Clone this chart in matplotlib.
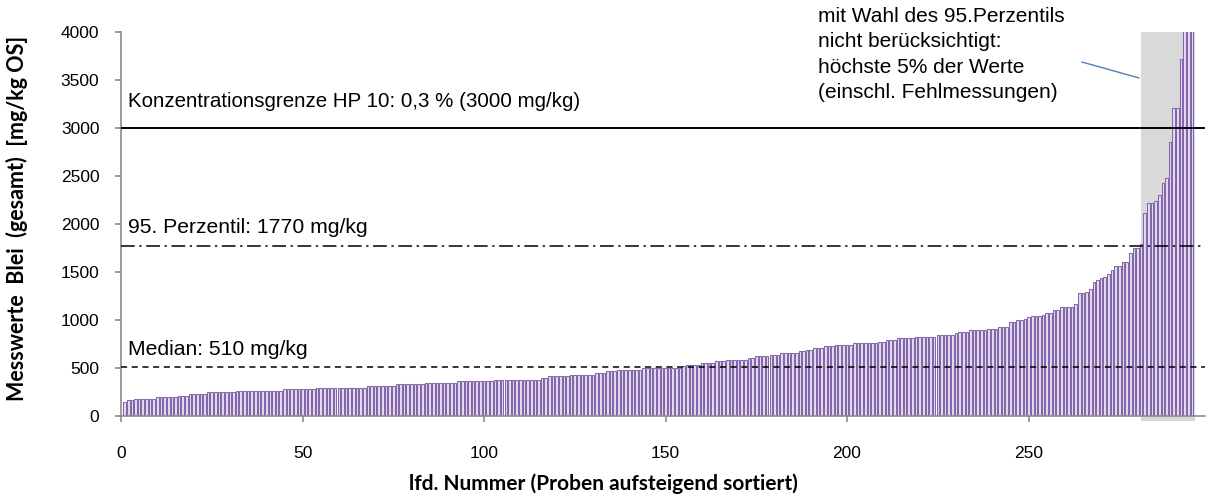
"""Messwerte Blei (gesamt), Proben aufsteigend sortiert, mit Median, 95. Perzentil und HP 10 Grenze."""

import matplotlib

matplotlib.use("Agg")
import matplotlib.pyplot as plt  # noqa: E402
import numpy as np  # noqa: E402

# sorted readings (mg/kg OS) in blocks of sample numbers
werte_001_049 = [148, 162, 162, 176, 176, 176, 176, 176, 176,
                 193, 193, 193, 193, 193, 193, 210, 210, 210,
                 227, 227, 227, 227, 227, 245, 245, 245, 245, 245, 245, 245, 245,
                 258, 258, 258, 258, 258, 258, 258, 258, 258, 258, 258, 258, 258,
                 279, 279, 279, 279, 279]
werte_050_104 = [276, 276, 276, 276, 293, 293, 293, 293, 293,
                 296, 296, 296, 296, 296, 296, 296, 296, 296,
                 310, 310, 310, 310, 310, 310, 310, 310,
                 331, 331, 331, 331, 331, 331, 331, 331,
                 348, 348, 348, 348, 348, 348, 348, 348, 348,
                 362, 362, 362, 362, 362, 362, 362, 362, 362, 362, 379, 379]
werte_105_156 = [379, 379, 379, 379, 379, 379, 379, 379, 379, 379, 379,
                 396, 396, 414, 414, 414, 414, 414, 414,
                 431, 431, 431, 431, 431, 431, 431, 448, 448, 448, 465, 465, 465,
                 482, 482, 482, 482, 482, 482, 482,
                 500, 500, 500, 500, 500, 500, 500, 500, 500, 500, 500, 517, 534]
werte_157_209 = [534, 534, 534, 551, 551, 551, 551, 569, 569, 569,
                 586, 586, 586, 586, 586, 586, 603, 603, 620, 620, 620, 620,
                 638, 638, 638, 655, 655, 655, 655, 655, 672, 672, 689, 689,
                 706, 706, 706, 724, 724, 724, 741, 741, 741, 741, 741,
                 758, 758, 758, 758, 758, 758, 758, 775]
werte_210_253 = [775, 792, 792, 792, 810, 810, 810, 810, 810,
                 827, 827, 827, 827, 827, 827, 841, 841, 841, 841, 841, 861,
                 879, 879, 879, 892, 892, 892, 892, 892, 910, 910, 910, 927, 927, 927,
                 979, 979, 996, 996, 1010, 1027, 1044, 1044, 1044]
# the last three run off the top of the axis in the original (> 4000)
werte_254_295 = [1051, 1068, 1068, 1103, 1103, 1138, 1138, 1138, 1138, 1165,
                 1276, 1276, 1287, 1321, 1391, 1415, 1432, 1450, 1477, 1519,
                 1564, 1564, 1606, 1606, 1699, 1744, 1751, 1790,
                 2115, 2220, 2220, 2237, 2300, 2428, 2473, 2854, 3211, 3211, 3711,
                 4300, 4700, 5200]

MEDIAN = 510
P95 = 1770
GRENZE = 3000
TOP5_VON, TOP5_BIS = 280.9, 295.9   # shaded "highest 5 %" band, sample numbers

LILA, LILA_HELL = "#8466AC", "#E4DCEE"
GRAU, ACHSE = "#D9D9D9", "#8C8C8C"

werte = np.array(werte_001_049 + werte_050_104 + werte_105_156
                 + werte_157_209 + werte_210_253 + werte_254_295)
nr = np.arange(1, len(werte) + 1)

plt.rcParams["font.family"] = ["Liberation Sans", "DejaVu Sans"]
BOLD = ["Lato", "DejaVu Sans"]

fig = plt.figure(figsize=(12.08, 4.97), dpi=100)
ax = fig.add_axes([121 / 1208, 81 / 497, (1205 - 121) / 1208, (465.3 - 81) / 497])

ax.axvspan(TOP5_VON, TOP5_BIS, ymin=-0.012, ymax=1.0, color=GRAU, lw=0, zorder=0,
           clip_on=False)
ax.bar(nr, werte, width=0.72, color=LILA_HELL, edgecolor=LILA, linewidth=0.75, zorder=2)

ax.axhline(GRENZE, color="black", lw=1.4, zorder=3)
ax.axhline(P95, color="black", lw=1.1, ls=(0, (9, 3, 1.5, 3)), zorder=3)
ax.axhline(MEDIAN, color="black", lw=1.1, ls=(0, (4, 3)), zorder=3)

ax.text(2, 3270, "Konzentrationsgrenze HP 10: 0,3 % (3000 mg/kg)", fontsize=14.8,
        va="center", ha="left")
ax.text(2, 1960, "95. Perzentil: 1770 mg/kg", fontsize=15.2, va="center", ha="left")
ax.text(2, 690, "Median: 510 mg/kg", fontsize=15.2, va="center", ha="left")

fig.text(818 / 1208, 1 - 7 / 497,
         "mit Wahl des 95.Perzentils\nnicht berücksichtigt:\nhöchste 5% der Werte\n"
         "(einschl. Fehlmessungen)", fontsize=15, va="top", ha="left", linespacing=1.42)
fig.add_artist(plt.Line2D([1082 / 1208, 1139 / 1208], [1 - 62 / 497, 1 - 78 / 497],
                          color="#4F81BD", lw=1.0))

ax.set_xlim(0, 298.6)
ax.set_ylim(0, 4000)
ax.set_xticks(np.arange(0, 251, 50))
ax.set_yticks(np.arange(0, 4001, 500))

for s in ("top", "right"):
    ax.spines[s].set_visible(False)
for s in ("left", "bottom"):
    ax.spines[s].set_color(ACHSE)
    ax.spines[s].set_linewidth(1.2)
ax.tick_params(axis="both", colors=ACHSE, labelcolor="black", labelsize=12.5,
               length=4.5, width=1.2, direction="out")
ax.tick_params(axis="x", pad=17)
ax.tick_params(axis="y", pad=11)

ax.set_xlabel("lfd. Nummer (Proben aufsteigend sortiert)", fontsize=15, fontweight="bold",
              family=BOLD)
ax.xaxis.set_label_coords((603 - 121) / (1205 - 121), -0.15)
ax.set_ylabel("Messwerte  Blei  (gesamt)  [mg/kg OS]", fontsize=15.5, fontweight="bold",
              family=BOLD)
ax.yaxis.set_label_coords(-0.086, 0.515)

fig.savefig("out.png", dpi=100, facecolor="white")
